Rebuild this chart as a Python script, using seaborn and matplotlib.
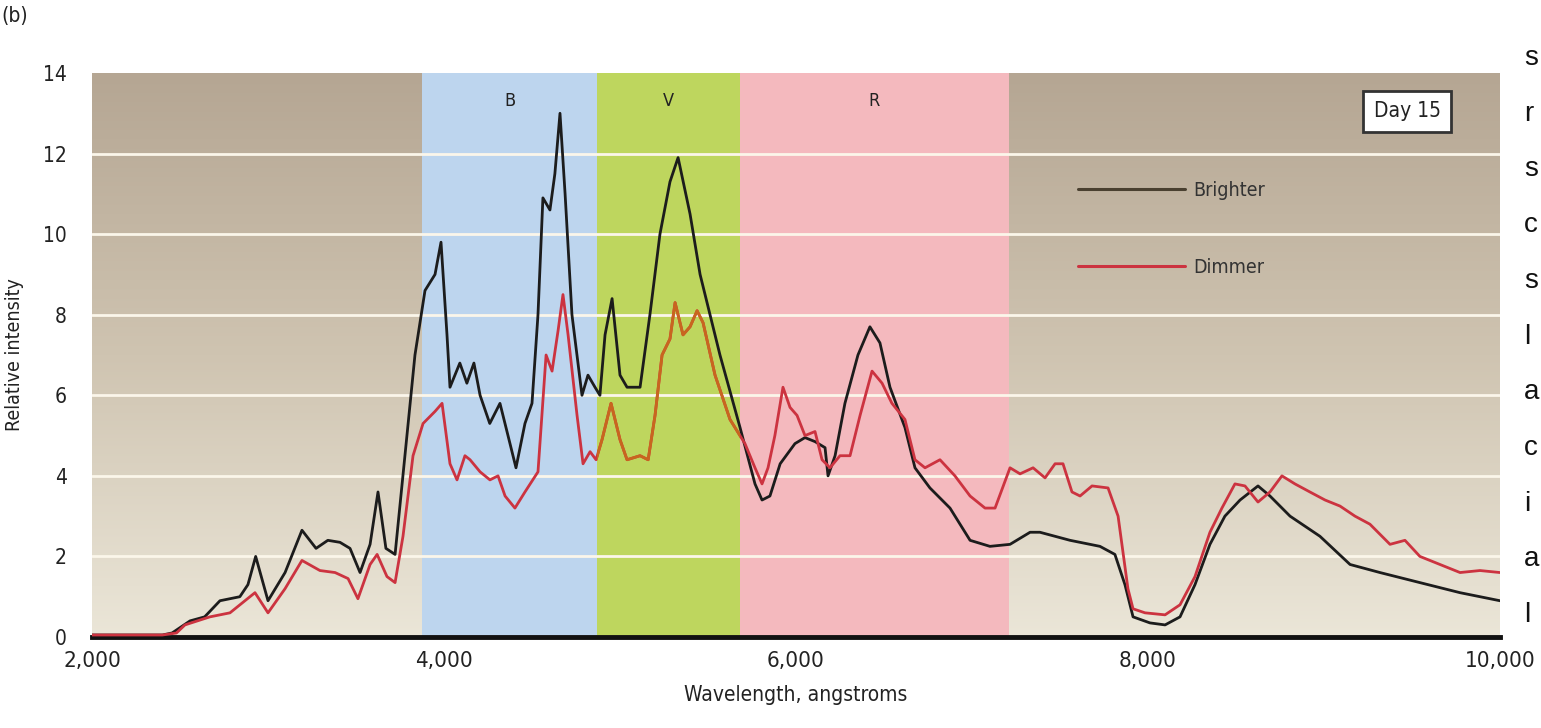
import numpy as np
import pandas as pd
import matplotlib
matplotlib.use("Agg")
import matplotlib.pyplot as plt
from matplotlib.colors import LinearSegmentedColormap
from matplotlib.patches import Rectangle
from matplotlib.lines import Line2D
import seaborn as sns

# ---------------- data ----------------
wl_bright = [2000, 2200, 2400, 2455, 2557, 2640, 2727, 2840, 2886, 2930, 3000, 3097, 3193,
             3273, 3340, 3409, 3466, 3523, 3580, 3625, 3670, 3722, 3778, 3835, 3892, 3949,
             3983, 4017, 4034, 4090, 4130, 4170, 4205, 4260, 4318, 4375, 4409, 4460, 4500,
             4534, 4562, 4602, 4630, 4659, 4688, 4727, 4784, 4818, 4858, 4886, 4915, 4955,
             5000, 5040, 5114, 5170, 5227, 5284, 5330, 5398, 5455, 5568, 5682, 5767, 5807,
             5852, 5910, 5994, 6051, 6108, 6165, 6182, 6222, 6278, 6352, 6420, 6477, 6534,
             6619, 6676, 6761, 6875, 6989, 7102, 7216, 7330, 7386, 7557, 7727, 7812, 7869,
             7915, 8011, 8097, 8182, 8267, 8352, 8437, 8523, 8625, 8693, 8807, 8977, 9148,
             9318, 9545, 9773, 10000]
int_bright = [0.05, 0.05, 0.05, 0.1, 0.4, 0.5, 0.9, 1.0, 1.3, 2.0, 0.9, 1.6, 2.65,
              2.2, 2.4, 2.35, 2.2, 1.6, 2.3, 3.6, 2.2, 2.05, 4.5, 7.0, 8.6, 9.0,
              9.8, 7.5, 6.2, 6.8, 6.3, 6.8, 6.0, 5.3, 5.8, 4.8, 4.2, 5.3, 5.8,
              8.0, 10.9, 10.6, 11.5, 13.0, 11.0, 8.0, 6.0, 6.5, 6.2, 6.0, 7.5, 8.4,
              6.5, 6.2, 6.2, 8.0, 10.0, 11.3, 11.9, 10.5, 9.0, 7.0, 5.2, 3.8, 3.4,
              3.5, 4.3, 4.8, 4.95, 4.85, 4.7, 4.0, 4.5, 5.8, 7.0, 7.7, 7.3, 6.2,
              5.2, 4.2, 3.7, 3.2, 2.4, 2.25, 2.3, 2.6, 2.6, 2.4, 2.25, 2.05, 1.3,
              0.5, 0.35, 0.3, 0.5, 1.3, 2.3, 3.0, 3.4, 3.75, 3.5, 3.0, 2.5, 1.8,
              1.6, 1.35, 1.1, 0.9]

wl_dim = [2000, 2200, 2400, 2480, 2528, 2670, 2784, 2869, 2926, 3000, 3097, 3193, 3295,
          3381, 3455, 3511, 3580, 3620, 3676, 3722, 3767, 3824, 3881, 3949, 3989, 4034,
          4074, 4119, 4148, 4205, 4261, 4307, 4347, 4403, 4460, 4534, 4580, 4614, 4648,
          4676, 4705, 4756, 4790, 4830, 4864, 4898, 4949, 5000, 5040, 5114, 5160, 5199,
          5239, 5284, 5313, 5358, 5398, 5438, 5472, 5540, 5625, 5710, 5767, 5807, 5841,
          5880, 5926, 5966, 6006, 6051, 6108, 6148, 6193, 6250, 6307, 6364, 6432, 6489,
          6545, 6619, 6676, 6733, 6818, 6903, 6989, 7074, 7131, 7216, 7273, 7347, 7415,
          7472, 7517, 7568, 7614, 7682, 7773, 7830, 7886, 7915, 7983, 8097, 8182, 8267,
          8352, 8420, 8494, 8551, 8625, 8693, 8761, 8835, 8920, 9006, 9091, 9176, 9261,
          9375, 9460, 9545, 9659, 9773, 9886, 10000]
int_dim = [0.05, 0.05, 0.05, 0.1, 0.3, 0.5, 0.6, 0.9, 1.1, 0.6, 1.2, 1.9, 1.65,
           1.6, 1.45, 0.95, 1.8, 2.05, 1.5, 1.35, 2.5, 4.5, 5.3, 5.6, 5.8, 4.3,
           3.9, 4.5, 4.4, 4.1, 3.9, 4.0, 3.5, 3.2, 3.6, 4.1, 7.0, 6.6, 7.6,
           8.5, 7.5, 5.5, 4.3, 4.6, 4.4, 4.9, 5.8, 4.9, 4.4, 4.5, 4.4, 5.5,
           7.0, 7.4, 8.3, 7.5, 7.7, 8.1, 7.8, 6.5, 5.4, 4.8, 4.2, 3.8, 4.2,
           5.0, 6.2, 5.7, 5.5, 5.0, 5.1, 4.4, 4.2, 4.5, 4.5, 5.5, 6.6, 6.3,
           5.8, 5.4, 4.4, 4.2, 4.4, 4.0, 3.5, 3.2, 3.2, 4.2, 4.05, 4.2, 3.95,
           4.3, 4.3, 3.6, 3.5, 3.75, 3.7, 3.0, 1.2, 0.7, 0.6, 0.55, 0.8, 1.5,
           2.6, 3.2, 3.8, 3.75, 3.35, 3.6, 4.0, 3.8, 3.6, 3.4, 3.25, 3.0, 2.8,
           2.3, 2.4, 2.0, 1.8, 1.6, 1.65, 1.6]

band_names = ["B", "V", "R"]
band_edges = [(3875, 4870), (4870, 5680), (5680, 7210)]
band_colors = ["#bdd5ee", "#bed65e", "#f4b9be"]

series_names = ["Brighter", "Dimmer"]
x_ticks = [2000, 4000, 6000, 8000, 10000]
x_ticklabels = ["2,000", "4,000", "6,000", "8,000", "10,000"]
y_ticks = [0, 2, 4, 6, 8, 10, 12, 14]

side_letters = ["s", "r", "s", "c", "s", "l", "a", "c", "i", "a", "l"]

df = pd.concat([
    pd.DataFrame({"wl": wl_bright, "I": int_bright, "series": series_names[0]}),
    pd.DataFrame({"wl": wl_dim, "I": int_dim, "series": series_names[1]}),
], ignore_index=True)

# ---------------- figure ----------------
sns.set_theme(style="white")
plt.rcParams["font.family"] = ["Liberation Sans Narrow", "DejaVu Sans"]
plt.rcParams["font.stretch"] = "condensed"

fig = plt.figure(figsize=(15.41, 7.28), dpi=100)
ax = fig.add_axes([92 / 1541, 91 / 728, 1408 / 1541, 564 / 728])
ax.set_xlim(2000, 10000)
ax.set_ylim(0, 14)

# background gradient
cmap = LinearSegmentedColormap.from_list("bg", ["#ebe6d8", "#cfc4b1", "#b5a693"])
grad = np.linspace(0, 1, 256).reshape(-1, 1)
ax.imshow(grad, cmap=cmap, origin="lower", aspect="auto",
          extent=[2000, 10000, 0, 14], zorder=0)

for name, (a, b), c in zip(band_names, band_edges, band_colors):
    ax.axvspan(a, b, color=c, zorder=1, lw=0)
    ax.text((a + b) / 2, 13.3, name, ha="center", va="center", fontsize=13,
            color="#222222", zorder=5)

for yv in y_ticks[1:-1]:
    ax.axhline(yv, color="#fbf6ea", lw=2.0, zorder=2)

palette = {"Brighter": "#1c1c1c", "Dimmer": "#cc3340"}
sns.lineplot(data=df, x="wl", y="I", hue="series", palette=palette,
             estimator=None, sort=False, lw=2.0, ax=ax, zorder=4, legend=False)

# orange appearance of the dimmer curve in the V band
sns.lineplot(x=wl_dim, y=int_dim, color="#c8661e", estimator=None, sort=False,
             lw=2.0, ax=ax, zorder=4.5)
clip = Rectangle((band_edges[1][0], 0), band_edges[1][1] - band_edges[1][0], 14,
                 transform=ax.transData, visible=False)
ax.add_patch(clip)
ax.lines[-1].set_clip_path(clip)

# legend
handles = [Line2D([], [], color="#4a4030", lw=2.2),
           Line2D([], [], color="#cc3340", lw=2.2)]
leg = ax.legend(handles, series_names, loc="upper left", bbox_to_anchor=(0.70, 0.808),
                frameon=False, fontsize=14, handlelength=5.5, handletextpad=0.45,
                labelspacing=2.95, borderpad=0, borderaxespad=0)
for t in leg.get_texts():
    t.set_color("#333333")

# Day 15 box
ax.text(0.934, 0.932, "Day 15", transform=ax.transAxes, ha="center", va="center",
        fontsize=15, color="#222222", zorder=6,
        bbox=dict(boxstyle="square,pad=0.5", fc="white", ec="#333333", lw=2))

# axes styling
for s in ["left", "right", "top"]:
    ax.spines[s].set_visible(False)
ax.spines["bottom"].set_color("#111111")
ax.spines["bottom"].set_linewidth(3.5)
ax.spines["bottom"].set_zorder(3)
ax.set_xticks(x_ticks)
ax.set_xticklabels(x_ticklabels)
ax.set_yticks(y_ticks)
ax.tick_params(axis="x", direction="in", length=10, width=1.5, color="#111111",
               labelsize=16, pad=10, labelcolor="#222222")
ax.tick_params(axis="y", length=0, labelsize=15, pad=18, labelcolor="#222222")
ax.grid(False)
ax.set_xlabel("Wavelength, angstroms", fontsize=15, color="#222222", labelpad=10)
ax.set_ylabel("Relative intensity", fontsize=14, color="#222222", labelpad=14)

fig.text(0.001, 0.978, "(b)", fontsize=15, color="#222222", ha="left", va="center")

# text column at right edge (from the adjoining page)
for i, ch in enumerate(side_letters):
    ypix = 58 + i * 55.7
    fig.text(1524 / 1541, 1 - ypix / 728, ch, fontsize=20, color="#111111",
             ha="left", va="center", family=["Liberation Sans", "DejaVu Sans"],
             stretch="normal")

fig.savefig("out.png", dpi=100)
